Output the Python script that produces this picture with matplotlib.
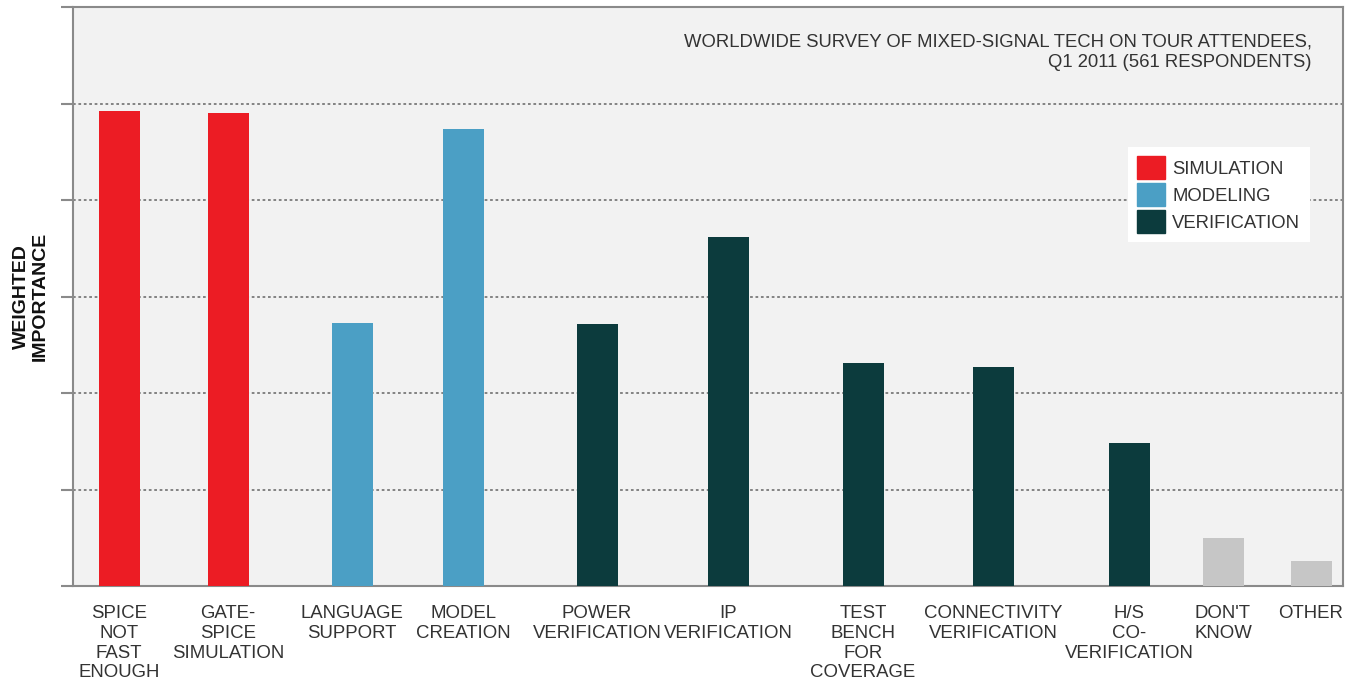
import matplotlib
matplotlib.use("Agg")
import matplotlib.pyplot as plt  # noqa: E402
from matplotlib.patches import Patch  # noqa: E402

# data
categories = ["SPICE\nNOT\nFAST\nENOUGH", "GATE-\nSPICE\nSIMULATION",
              "LANGUAGE\nSUPPORT", "MODEL\nCREATION", "POWER\nVERIFICATION",
              "IP\nVERIFICATION", "TEST\nBENCH\nFOR\nCOVERAGE",
              "CONNECTIVITY\nVERIFICATION", "H/S\nCO-\nVERIFICATION",
              "DON'T\nKNOW", "OTHER"]
values = [4.92, 4.90, 2.73, 4.74, 2.72, 3.62, 2.31, 2.27, 1.48, 0.50, 0.26]
groups = ["SIMULATION", "SIMULATION", "MODELING", "MODELING",
          "VERIFICATION", "VERIFICATION", "VERIFICATION", "VERIFICATION",
          "VERIFICATION", None, None]
legend_labels = ["SIMULATION", "MODELING", "VERIFICATION"]
title = "WORLDWIDE SURVEY OF MIXED-SIGNAL TECH ON TOUR ATTENDEES,\nQ1 2011 (561 RESPONDENTS)"

# layout: slot centres along the axis (uneven in the original)
slots = [46, 155, 279, 390, 524, 655, 790, 920, 1056, 1150, 1238]
colors = {"SIMULATION": "#ec1c24", "MODELING": "#4b9fc5",
          "VERIFICATION": "#0c3b3d", None: "#c6c6c6"}

plt.rcParams["font.family"] = ["Liberation Sans", "DejaVu Sans"]

fig = plt.figure(figsize=(13.53, 6.81), dpi=100)
ax = fig.add_axes([73 / 1353, 1 - 586 / 681, 1270 / 1353, 579 / 681])
ax.set_facecolor("#f2f2f2")

ax.bar(slots, values, width=41, color=[colors[g] for g in groups], zorder=3)

ax.set_xlim(0, 1270)
ax.set_ylim(0, 6)
ax.set_yticks(range(7))
ax.set_yticklabels([])
ax.tick_params(axis="y", length=9, color="#8a8a8a", width=1.5)
ax.set_xticks(slots)
ax.set_xticklabels(categories, fontsize=13.4, color="#333333",
                   linespacing=1.2)
ax.tick_params(axis="x", length=0, pad=14)

for y in range(1, 6):
    ax.axhline(y, color="#7a7a7a", lw=1.3, ls=(0, (1.5, 1.5)), zorder=1)
for s in ax.spines.values():
    s.set_color("#8a8a8a")
    s.set_linewidth(1.5)

ax.set_ylabel("WEIGHTED\nIMPORTANCE", fontsize=14, fontweight="bold",
              color="#111111", labelpad=5, linespacing=1.1)

ax.text((1312 - 73) / 1270, 0.955, title, transform=ax.transAxes,
        ha="right", va="top", multialignment="right", fontsize=13.3,
        color="#333333", linespacing=1.3)

handles = [Patch(color=colors[g], label=g) for g in legend_labels]
leg = ax.legend(handles=handles, loc="upper left",
                bbox_to_anchor=((1128 - 73) / 1270, (586 - 147) / 579),
                fontsize=13.3, frameon=True, fancybox=False, handlelength=1.5,
                handleheight=1.55, labelspacing=0.2, handletextpad=0.4,
                borderpad=0.5, borderaxespad=0)
leg.get_frame().set_facecolor("white")
leg.get_frame().set_edgecolor("none")
leg.get_frame().set_alpha(1)
for t in leg.get_texts():
    t.set_color("#333333")

fig.savefig("out.png", dpi=100)
